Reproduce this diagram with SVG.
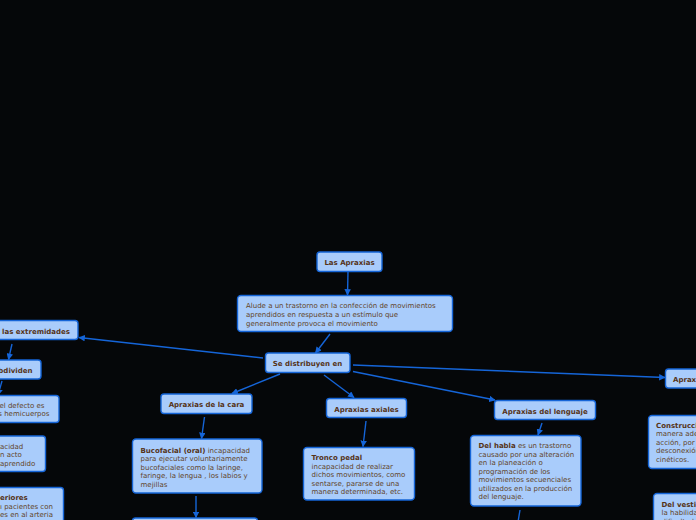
<svg xmlns="http://www.w3.org/2000/svg" width="696" height="520" viewBox="0 0 696 520">
<defs>
<style>
.n{fill:#a9ccfb;stroke:#1565d8;stroke-width:1.4}
.t{font-family:"DejaVu Sans","Liberation Sans",sans-serif;font-size:7px;fill:#624428}
.b{font-weight:bold;fill:#553317}
.c{text-anchor:middle}
.e{stroke:#1565d8;stroke-width:1.4;fill:none;marker-end:url(#ah)}
</style>
<marker id="ah" viewBox="0 0 10 10" refX="9" refY="5" markerWidth="6.5" markerHeight="6.5" orient="auto" markerUnits="userSpaceOnUse">
<path d="M0,0 L10,5 L0,10 z" fill="#1565d8"/>
</marker>
</defs>
<rect width="696" height="520" fill="#050709"/>
<g id="connectors">
<line class="e" x1="348" y1="272" x2="347.5" y2="295"/>
<line class="e" x1="330" y1="334" x2="315.5" y2="353"/>
<line class="e" x1="263" y1="358" x2="79" y2="337.5"/>
<line class="e" x1="280" y1="374" x2="232" y2="393.5"/>
<line class="e" x1="324" y1="375" x2="354" y2="397.5"/>
<line class="e" x1="353" y1="371.5" x2="495" y2="400"/>
<line class="e" x1="353" y1="365" x2="665" y2="377.5"/>
<line class="e" x1="12" y1="344" x2="8.5" y2="359.5"/>
<line class="e" x1="2" y1="381" x2="-2" y2="395"/>
<line class="e" x1="204.5" y1="417" x2="201.5" y2="438.5"/>
<line class="e" x1="196" y1="496" x2="196" y2="517.5"/>
<line class="e" x1="366" y1="421" x2="363" y2="446.5"/>
<line class="e" x1="542" y1="423" x2="538" y2="435"/>
<line class="e" x1="520" y1="510" x2="517" y2="528"/>
</g>
<g id="n-apraxias">
<rect class="n" x="317" y="252" width="65" height="19.5" rx="3"/>
<text class="t b c" x="349.5" y="265">Las Apraxias</text>
</g>
<g id="n-alude">
<rect class="n" x="237.5" y="295.5" width="215" height="36" rx="3.5"/>
<text class="t" x="246" y="308">Alude a un trastorno en la confección de movimientos</text>
<text class="t" x="246" y="317">aprendidos en respuesta a un estímulo que</text>
<text class="t" x="246" y="325.5">generalmente provoca el movimiento</text>
</g>
<g id="n-distribuyen">
<rect class="n" x="265.5" y="353" width="84.5" height="19.5" rx="3"/>
<text class="t b c" x="307.5" y="366">Se distribuyen en</text>
</g>
<g id="n-extremidades">
<rect class="n" x="-20" y="320.5" width="98" height="19" rx="3"/>
<text class="t b" x="70" y="333.5" text-anchor="end">Apraxias de las extremidades</text>
</g>
<g id="n-subdividen">
<rect class="n" x="-20" y="360" width="61" height="19" rx="3"/>
<text class="t b" x="32.5" y="373" text-anchor="end">Se subdividen</text>
</g>
<g id="n-defecto">
<rect class="n" x="-20" y="395.5" width="79" height="27" rx="3"/>
<text class="t" x="44.5" y="407.5" text-anchor="end">el defecto es</text>
<text class="t" x="49.5" y="416" text-anchor="end">s hemicuerpos</text>
</g>
<g id="n-capacidad">
<rect class="n" x="-20" y="436" width="65.5" height="35.5" rx="3"/>
<text class="t" x="0" y="448.5">acidad</text>
<text class="t" x="0" y="457">n acto</text>
<text class="t" x="0" y="465.5">aprendido</text>
</g>
<g id="n-posteriores">
<rect class="n" x="-20" y="487.5" width="83.5" height="45" rx="3"/>
<text class="t b" x="0" y="500">eriores</text>
<text class="t" x="0" y="508.5">ı pacientes con</text>
<text class="t" x="0" y="517">es en al arteria</text>
</g>
<g id="n-cara">
<rect class="n" x="161" y="394" width="91" height="19.5" rx="3"/>
<text class="t b c" x="206.5" y="407">Apraxias de la cara</text>
</g>
<g id="n-bucofacial">
<rect class="n" x="132.5" y="439" width="129.5" height="54" rx="3.5"/>
<text class="t" x="140.5" y="452.5"><tspan class="b">Bucofacial (oral)</tspan> incapacidad</text>
<text class="t" x="140.5" y="461">para ejecutar voluntariamente</text>
<text class="t" x="140.5" y="469.5">bucofaciales como la laringe,</text>
<text class="t" x="140.5" y="478">faringe, la lengua , los labios y</text>
<text class="t" x="140.5" y="486.5">mejillas</text>
</g>
<g id="n-below-bucofacial">
<rect class="n" x="132.5" y="518" width="125" height="20" rx="3"/>
</g>
<g id="n-axiales">
<rect class="n" x="326.5" y="398.5" width="80" height="19" rx="3"/>
<text class="t b c" x="366.5" y="411.5">Apraxias axiales</text>
</g>
<g id="n-tronco">
<rect class="n" x="303.5" y="447.5" width="111" height="52.5" rx="3.5"/>
<text class="t b" x="311.5" y="460">Tronco pedal</text>
<text class="t" x="311.5" y="468.5">incapacidad de realizar</text>
<text class="t" x="311.5" y="477">dichos movimientos, como</text>
<text class="t" x="311.5" y="485.5">sentarse, pararse de una</text>
<text class="t" x="311.5" y="494">manera determinada, etc.</text>
</g>
<g id="n-lenguaje">
<rect class="n" x="494.5" y="400.5" width="101" height="19" rx="3"/>
<text class="t b c" x="545" y="413.5">Apraxias del lenguaje</text>
</g>
<g id="n-habla">
<rect class="n" x="470.5" y="435.5" width="110.5" height="70.5" rx="3.5"/>
<text class="t" x="478.5" y="448"><tspan class="b">Del habla</tspan> es un trastorno</text>
<text class="t" x="478.5" y="456.5">causado por una alteración</text>
<text class="t" x="478.5" y="465">en la planeación o</text>
<text class="t" x="478.5" y="473.5">programación de los</text>
<text class="t" x="478.5" y="482">movimientos secuenciales</text>
<text class="t" x="478.5" y="490.5">utilizados en la producción</text>
<text class="t" x="478.5" y="499">del lenguaje.</text>
</g>
<g id="n-aprax-right">
<rect class="n" x="665.5" y="369" width="60" height="19" rx="3"/>
<text class="t b" x="673" y="382">Apraxias</text>
</g>
<g id="n-construccion">
<rect class="n" x="648.5" y="415.5" width="70" height="53" rx="3.5"/>
<text class="t b" x="656" y="428">Construcción</text>
<text class="t" x="656" y="436">manera adecuada</text>
<text class="t" x="656" y="444.5">acción, por</text>
<text class="t" x="656" y="453">desconexión</text>
<text class="t" x="656" y="461.5">cinéticos.</text>
</g>
<g id="n-vestido">
<rect class="n" x="653.5" y="493.5" width="70" height="40" rx="3.5"/>
<text class="t b" x="661.5" y="506.5">Del vestido</text>
<text class="t" x="661.5" y="515">la habilidad</text>
<text class="t" x="661.5" y="523.5">dificultad</text>
</g>
</svg>
